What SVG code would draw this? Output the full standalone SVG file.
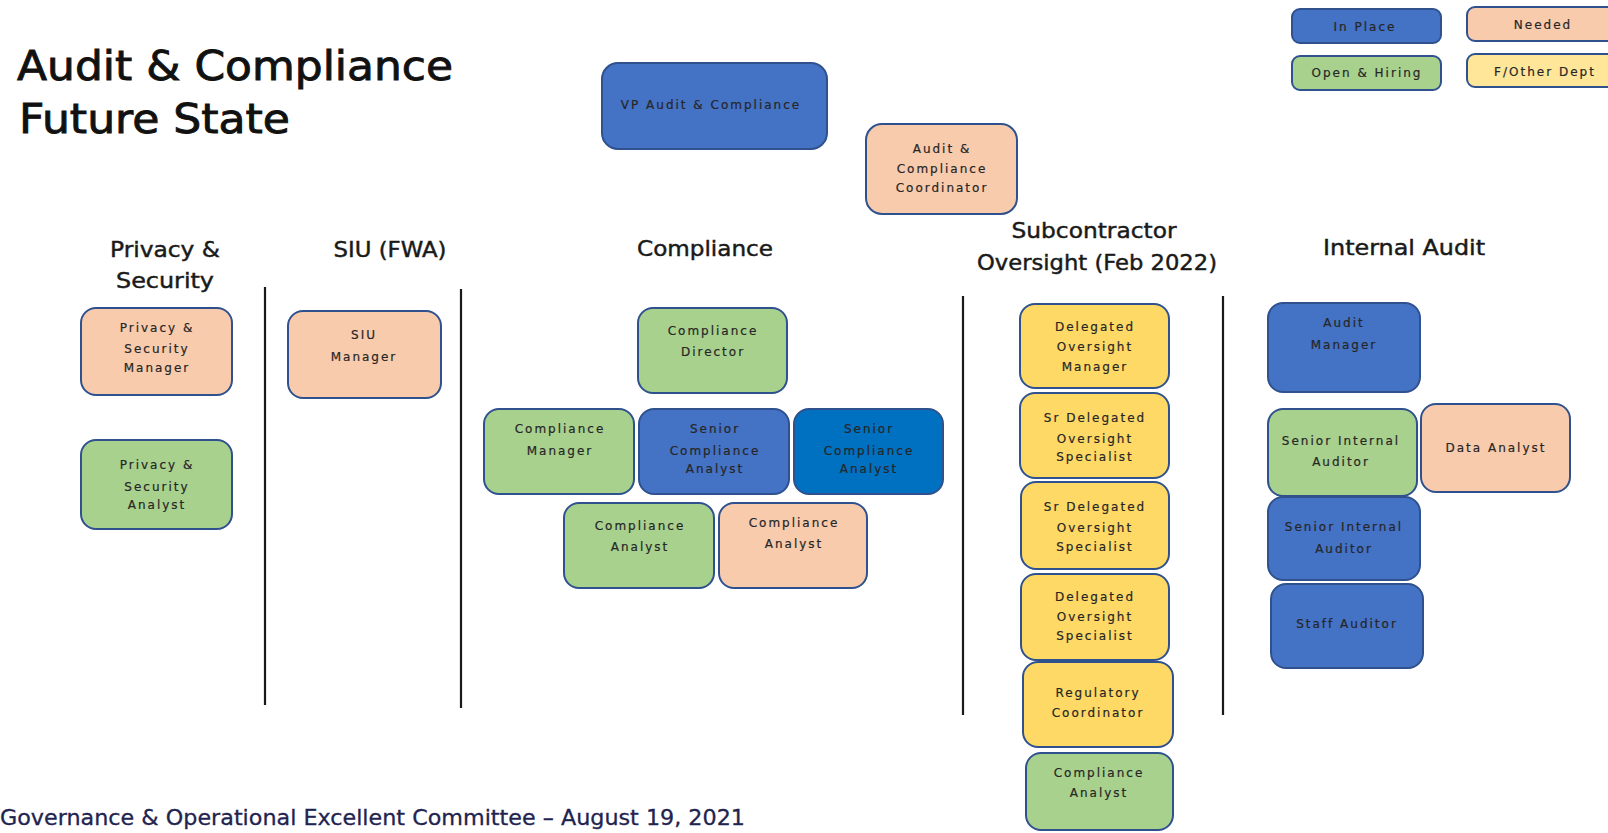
<svg xmlns="http://www.w3.org/2000/svg" width="1608" height="833" viewBox="0 0 1608 833">
  <style>
    .box { stroke: #2F528F; stroke-width: 2; }
    .inplace { fill: #4472C4; }
    .inplace2 { fill: #0070C0; }
    .needed { fill: #F8CBAD; }
    .hiring { fill: #A9D18E; }
    .other { fill: #FFE699; }
    .sub { fill: #FFD966; }
    .lbl { font-family: "DejaVu Sans", Verdana, sans-serif; font-size: 12px; letter-spacing: 2px; fill: #262626; stroke: #262626; stroke-width: 0.2; text-anchor: middle; }
    .head { font-family: "DejaVu Sans", Verdana, sans-serif; font-size: 21px; fill: #1a1a1a; stroke: #1a1a1a; stroke-width: 0.45; text-anchor: middle; }
    .title { font-family: "DejaVu Sans", Verdana, sans-serif; font-size: 41px; fill: #111; stroke: #111; stroke-width: 0.9; }
    .foot { font-family: "DejaVu Sans", Verdana, sans-serif; font-size: 21px; fill: #1f2450; stroke: #1f2450; stroke-width: 0.3; }
    .divider { stroke: #1a1a1a; stroke-width: 2.2; }
  </style>

  <rect width="1608" height="833" fill="#ffffff"/>

  <!-- page title -->
  <g id="title">
    <text class="title" x="17" y="80" textLength="436" lengthAdjust="spacingAndGlyphs">Audit &amp; Compliance</text>
    <text class="title" x="19" y="133" textLength="271" lengthAdjust="spacingAndGlyphs">Future State</text>
  </g>

  <!-- legend -->
  <g id="legend">
    <g id="legend-inplace">
      <rect class="box inplace" x="1292" y="9" width="149" height="34" rx="8"/>
      <text class="lbl" x="1365" y="31">In Place</text>
    </g>
    <g id="legend-needed">
      <rect class="box needed" x="1467" y="7" width="160" height="34" rx="8"/>
      <text class="lbl" x="1543" y="29">Needed</text>
    </g>
    <g id="legend-hiring">
      <rect class="box hiring" x="1292" y="56" width="149" height="34" rx="8"/>
      <text class="lbl" x="1367" y="77">Open &amp; Hiring</text>
    </g>
    <g id="legend-other">
      <rect class="box other" x="1467" y="54" width="160" height="33" rx="8"/>
      <text class="lbl" x="1545" y="76">F/Other Dept</text>
    </g>
  </g>

  <!-- column headings -->
  <g id="headings">
    <text class="head" x="165" y="257" textLength="110" lengthAdjust="spacingAndGlyphs">Privacy &amp;</text>
    <text class="head" x="165" y="288" textLength="98" lengthAdjust="spacingAndGlyphs">Security</text>
    <text class="head" x="390" y="257" textLength="113" lengthAdjust="spacingAndGlyphs">SIU (FWA)</text>
    <text class="head" x="705" y="256" textLength="136" lengthAdjust="spacingAndGlyphs">Compliance</text>
    <text class="head" x="1094" y="238" textLength="165" lengthAdjust="spacingAndGlyphs">Subcontractor</text>
    <text class="head" x="1097" y="270" textLength="240" lengthAdjust="spacingAndGlyphs">Oversight (Feb 2022)</text>
    <text class="head" x="1404" y="255" textLength="162" lengthAdjust="spacingAndGlyphs">Internal Audit</text>
  </g>

  <!-- column dividers -->
  <g id="connectors">
    <line class="divider" x1="265" y1="287" x2="265" y2="705"/>
    <line class="divider" x1="461" y1="289" x2="461" y2="708"/>
    <line class="divider" x1="963" y1="296" x2="963" y2="715"/>
    <line class="divider" x1="1223" y1="296" x2="1223" y2="715"/>
  </g>

  <!-- leadership -->
  <g id="vp">
    <rect class="box inplace" x="602" y="63" width="225" height="86" rx="16"/>
    <text class="lbl" x="711" y="109">VP Audit &amp; Compliance</text>
  </g>
  <g id="coordinator">
    <rect class="box needed" x="866" y="124" width="151" height="90" rx="16"/>
    <text class="lbl" x="942" y="153">Audit &amp;</text>
    <text class="lbl" x="942" y="173">Compliance</text>
    <text class="lbl" x="942" y="192">Coordinator</text>
  </g>

  <!-- privacy & security -->
  <g id="privacy-manager">
    <rect class="box needed" x="81" y="308" width="151" height="87" rx="15"/>
    <text class="lbl" x="157" y="332">Privacy &amp;</text>
    <text class="lbl" x="157" y="353">Security</text>
    <text class="lbl" x="157" y="372">Manager</text>
  </g>
  <g id="privacy-analyst">
    <rect class="box hiring" x="81" y="440" width="151" height="89" rx="15"/>
    <text class="lbl" x="157" y="469">Privacy &amp;</text>
    <text class="lbl" x="157" y="491">Security</text>
    <text class="lbl" x="157" y="509">Analyst</text>
  </g>

  <!-- SIU -->
  <g id="siu-manager">
    <rect class="box needed" x="288" y="311" width="153" height="87" rx="15"/>
    <text class="lbl" x="364" y="339">SIU</text>
    <text class="lbl" x="364" y="361">Manager</text>
  </g>

  <!-- compliance -->
  <g id="compliance-director">
    <rect class="box hiring" x="638" y="308" width="149" height="85" rx="15"/>
    <text class="lbl" x="713" y="335">Compliance</text>
    <text class="lbl" x="713" y="356">Director</text>
  </g>
  <g id="compliance-manager">
    <rect class="box hiring" x="484" y="409" width="150" height="85" rx="15"/>
    <text class="lbl" x="560" y="433">Compliance</text>
    <text class="lbl" x="560" y="455">Manager</text>
  </g>
  <g id="senior-compliance-analyst-1">
    <rect class="box inplace" x="639" y="409" width="150" height="85" rx="15"/>
    <text class="lbl" x="715" y="433">Senior</text>
    <text class="lbl" x="715" y="455">Compliance</text>
    <text class="lbl" x="715" y="473">Analyst</text>
  </g>
  <g id="senior-compliance-analyst-2">
    <rect class="box inplace2" x="794" y="409" width="149" height="85" rx="15"/>
    <text class="lbl" x="869" y="433">Senior</text>
    <text class="lbl" x="869" y="455">Compliance</text>
    <text class="lbl" x="869" y="473">Analyst</text>
  </g>
  <g id="compliance-analyst-1">
    <rect class="box hiring" x="564" y="503" width="150" height="85" rx="15"/>
    <text class="lbl" x="640" y="530">Compliance</text>
    <text class="lbl" x="640" y="551">Analyst</text>
  </g>
  <g id="compliance-analyst-2">
    <rect class="box needed" x="719" y="503" width="148" height="85" rx="15"/>
    <text class="lbl" x="794" y="527">Compliance</text>
    <text class="lbl" x="794" y="548">Analyst</text>
  </g>

  <!-- subcontractor oversight -->
  <g id="delegated-oversight-manager">
    <rect class="box sub" x="1020" y="304" width="149" height="84" rx="15"/>
    <text class="lbl" x="1095" y="331">Delegated</text>
    <text class="lbl" x="1095" y="351">Oversight</text>
    <text class="lbl" x="1095" y="371">Manager</text>
  </g>
  <g id="sr-delegated-specialist-1">
    <rect class="box sub" x="1020" y="393" width="149" height="85" rx="15"/>
    <text class="lbl" x="1095" y="422">Sr Delegated</text>
    <text class="lbl" x="1095" y="443">Oversight</text>
    <text class="lbl" x="1095" y="461">Specialist</text>
  </g>
  <g id="sr-delegated-specialist-2">
    <rect class="box sub" x="1021" y="482" width="148" height="87" rx="15"/>
    <text class="lbl" x="1095" y="511">Sr  Delegated</text>
    <text class="lbl" x="1095" y="532">Oversight</text>
    <text class="lbl" x="1095" y="551">Specialist</text>
  </g>
  <g id="delegated-specialist">
    <rect class="box sub" x="1021" y="574" width="148" height="86" rx="15"/>
    <text class="lbl" x="1095" y="601">Delegated</text>
    <text class="lbl" x="1095" y="621">Oversight</text>
    <text class="lbl" x="1095" y="640">Specialist</text>
  </g>
  <g id="regulatory-coordinator">
    <rect class="box sub" x="1023" y="662" width="150" height="85" rx="15"/>
    <text class="lbl" x="1098" y="697">Regulatory</text>
    <text class="lbl" x="1098" y="717">Coordinator</text>
  </g>
  <g id="oversight-compliance-analyst">
    <rect class="box hiring" x="1026" y="753" width="147" height="77" rx="15"/>
    <text class="lbl" x="1099" y="777">Compliance</text>
    <text class="lbl" x="1099" y="797">Analyst</text>
  </g>

  <!-- internal audit -->
  <g id="audit-manager">
    <rect class="box inplace" x="1268" y="303" width="152" height="89" rx="15"/>
    <text class="lbl" x="1344" y="327">Audit</text>
    <text class="lbl" x="1344" y="349">Manager</text>
  </g>
  <g id="senior-internal-auditor-1">
    <rect class="box hiring" x="1268" y="409" width="149" height="87" rx="15"/>
    <text class="lbl" x="1341" y="445">Senior Internal</text>
    <text class="lbl" x="1341" y="466">Auditor</text>
  </g>
  <g id="data-analyst">
    <rect class="box needed" x="1421" y="404" width="149" height="88" rx="15"/>
    <text class="lbl" x="1496" y="452">Data Analyst</text>
  </g>
  <g id="senior-internal-auditor-2">
    <rect class="box inplace" x="1268" y="497" width="152" height="83" rx="15"/>
    <text class="lbl" x="1344" y="531">Senior Internal</text>
    <text class="lbl" x="1344" y="553">Auditor</text>
  </g>
  <g id="staff-auditor">
    <rect class="box inplace" x="1271" y="584" width="152" height="84" rx="15"/>
    <text class="lbl" x="1347" y="628">Staff Auditor</text>
  </g>

  <!-- footer -->
  <g id="footer">
    <text class="foot" x="0" y="825" textLength="745" lengthAdjust="spacingAndGlyphs">Governance &amp; Operational Excellent Committee – August 19, 2021</text>
  </g>
</svg>
